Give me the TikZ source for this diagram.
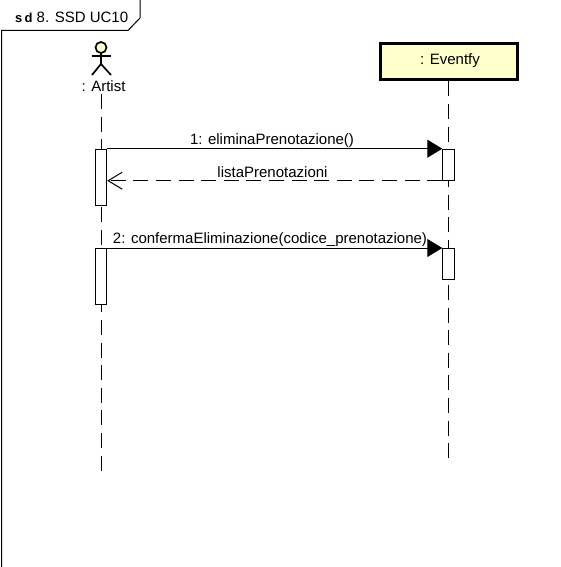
\documentclass[tikz,border=0pt]{standalone}
\usepackage{fontspec}
\setmainfont{Liberation Sans}
\usetikzlibrary{arrows.meta}
\definecolor{umlyellow}{HTML}{FFFFCC}
\tikzset{
	lifeline/.style={line width=1pt, dash pattern=on 15pt off 7.6pt},
	activation/.style={draw, fill=white, line width=1pt, minimum width=11.5pt, minimum height=#1, inner sep=0pt, anchor=north},
	msgtext/.style={inner sep=0pt, font=\fontsize{15}{17}\selectfont},
	actorline/.style={line width=1.7pt},
	syncmsg/.style={line width=1pt, -{Triangle[length=15pt,width=18pt]}},
	replymsg/.style={line width=1pt, dash pattern=on 15pt off 7.6pt, -{Straight Barb[length=14pt,width=17pt,line width=1pt]}}
}

\begin{document}
\begin{tikzpicture}[x=1pt, y=-1pt]
			%%%%% START %%%%%
			\useasboundingbox (0, 0) rectangle (560, 567);
			
			% frame
			\draw[line width=1pt] (1.5, 567) -- (1.5, 30.5) -- (128, 30.5) -- (140, 18) -- (140, 0);
			\node[msgtext, anchor=west] (title) at (15, 17) {{\fontsize{13}{15}\selectfont\textbf{s\,d}} 8. SSD UC10};
			
			% actor
			\draw[actorline, fill=umlyellow] (101, 47.5) circle (5.5);
			\draw[actorline] (101, 53) -- (101, 64);
			\draw[actorline] (92, 56) -- (111, 56);
			\draw[actorline] (92, 75) -- (101, 64) -- (111, 75);
			\node[msgtext] (artist) at (103.5, 86.5) {: Artist};
			
			% object
			\node[draw, fill=umlyellow, line width=3pt, minimum width=137pt, minimum height=36pt, inner sep=0pt] (eventfy) at (448.5, 62) {};
			\node[msgtext] (eventfytext) at (450, 60.5) {: Eventfy};
			
			% lifelines
			\coordinate (artisttop) at (101, 94);
			\coordinate (artistend) at (101, 471);
			\coordinate (eventfyend) at (448.5, 458.5);
			\draw[lifeline] (artisttop) -- (artistend);
			\draw[lifeline] (eventfy.south) -- (eventfyend);
			
			% activations
			\node[activation=56pt] (artistA) at (101, 148.7) {};
			\node[activation=31pt] (eventfyA) at (448.5, 148.7) {};
			\node[activation=55.5pt] (artistB) at (101, 248) {};
			\node[activation=31pt] (eventfyB) at (448.5, 248) {};
			
			% messages
			\draw[syncmsg] (artistA.north east) -- (eventfyA.north west);
			\draw[replymsg] (eventfyA.south west) -- (eventfyA.south west -| artistA.east);
			\draw[syncmsg] (artistB.north east) -- (eventfyB.north west);
			
			\node[msgtext] (msgone) at (272, 141) {1: eliminaPrenotazione()};
			\node[msgtext] (msgreply) at (272.5, 172) {listaPrenotazioni};
			\node[msgtext] (msgtwo) at (270, 240) {2: confermaEliminazione(codice\_prenotazione)};
			%%%%% END %%%%%
		\end{tikzpicture}
\end{document}
